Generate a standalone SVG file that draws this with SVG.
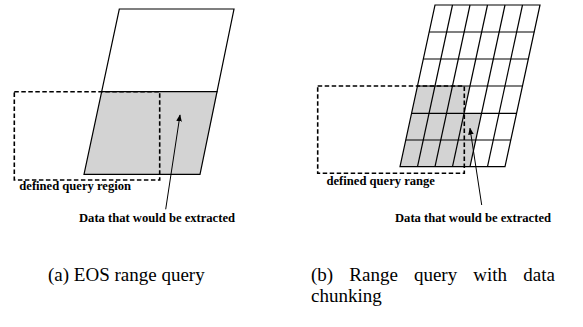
<svg xmlns="http://www.w3.org/2000/svg" width="583" height="327" viewBox="0 0 583 327">
<style>
.edge{fill:none;stroke:#000;stroke-width:1.2}
.gray{fill:#d3d3d3;stroke:none}
.dash{fill:none;stroke:#000;stroke-width:1.6;stroke-dasharray:4.5 2.5}
.lbl{font-family:"Liberation Serif","Times New Roman",serif;font-weight:bold;font-size:12.6px;fill:#000}
.cap{font-family:"Liberation Serif","Times New Roman",serif;font-size:19px;fill:#000}
.arr{fill:none;stroke:#000;stroke-width:1;marker-end:url(#ah)}
</style>
<defs>
<marker id="ah" viewBox="0 0 10 10" refX="9" refY="5" markerWidth="7" markerHeight="7" orient="auto" markerUnits="userSpaceOnUse">
<path d="M0,1 L10,5 L0,9 Z" fill="#000"/>
</marker>
</defs>
<g id="figA">
<polygon class="gray" points="101.6,91.7 217.6,91.7 200,174.3 84,174.3"/>
<polygon class="edge" points="119.3,9 234,9 200,174.3 84,174.3"/>
<line class="edge" x1="101.6" y1="91.7" x2="217.6" y2="91.7"/>
</g>
<g id="queryA">
<rect class="dash" x="14.3" y="91.7" width="145.4" height="88.3"/>
<text class="lbl" x="19.3" y="190">defined query region</text>
</g>
<g id="labelA">
<text class="lbl" x="79" y="222">Data that would be extracted</text>
</g>
<g id="figB">
<polygon class="gray" points="417.5,86 470,86 464.1,113.3 481.6,113.3 470,166.7 400,166.7"/>
<polygon class="edge" points="435,5 540,5 505,166.7 400,166.7"/>
<g class="edge">
<line x1="429.2" y1="32" x2="534.2" y2="32"/>
<line x1="423.4" y1="59" x2="528.4" y2="59"/>
<line x1="417.5" y1="86" x2="522.5" y2="86"/>
<line x1="411.6" y1="113.3" x2="516.6" y2="113.3"/>
<line x1="405.8" y1="140" x2="510.8" y2="140"/>
<line x1="452.5" y1="5" x2="417.5" y2="166.7"/>
<line x1="470" y1="5" x2="435" y2="166.7"/>
<line x1="487.5" y1="5" x2="452.5" y2="166.7"/>
<line x1="505" y1="5" x2="470" y2="166.7"/>
<line x1="522.5" y1="5" x2="487.5" y2="166.7"/>
</g>
</g>
<g id="queryB">
<rect class="dash" x="317.7" y="86" width="146.6" height="87.3"/>
<text class="lbl" x="326.5" y="184.5">defined query range</text>
</g>
<g id="labelB">
<text class="lbl" x="395" y="222">Data that would be extracted</text>
</g>
<g id="connectors">
<line class="arr" x1="165.7" y1="209.3" x2="180" y2="115"/>
<line class="arr" x1="481.7" y1="205" x2="470" y2="128.3"/>
</g>
<g id="captions">
<text class="cap" x="48" y="281">(a) EOS range query</text>
<text class="cap" y="281"><tspan x="311">(b)</tspan><tspan x="349.3">Range</tspan><tspan x="413.9">query</tspan><tspan x="473.3">with</tspan><tspan x="523.3">data</tspan></text>
<text class="cap" x="311" y="302">chunking</text>
</g>
</svg>
